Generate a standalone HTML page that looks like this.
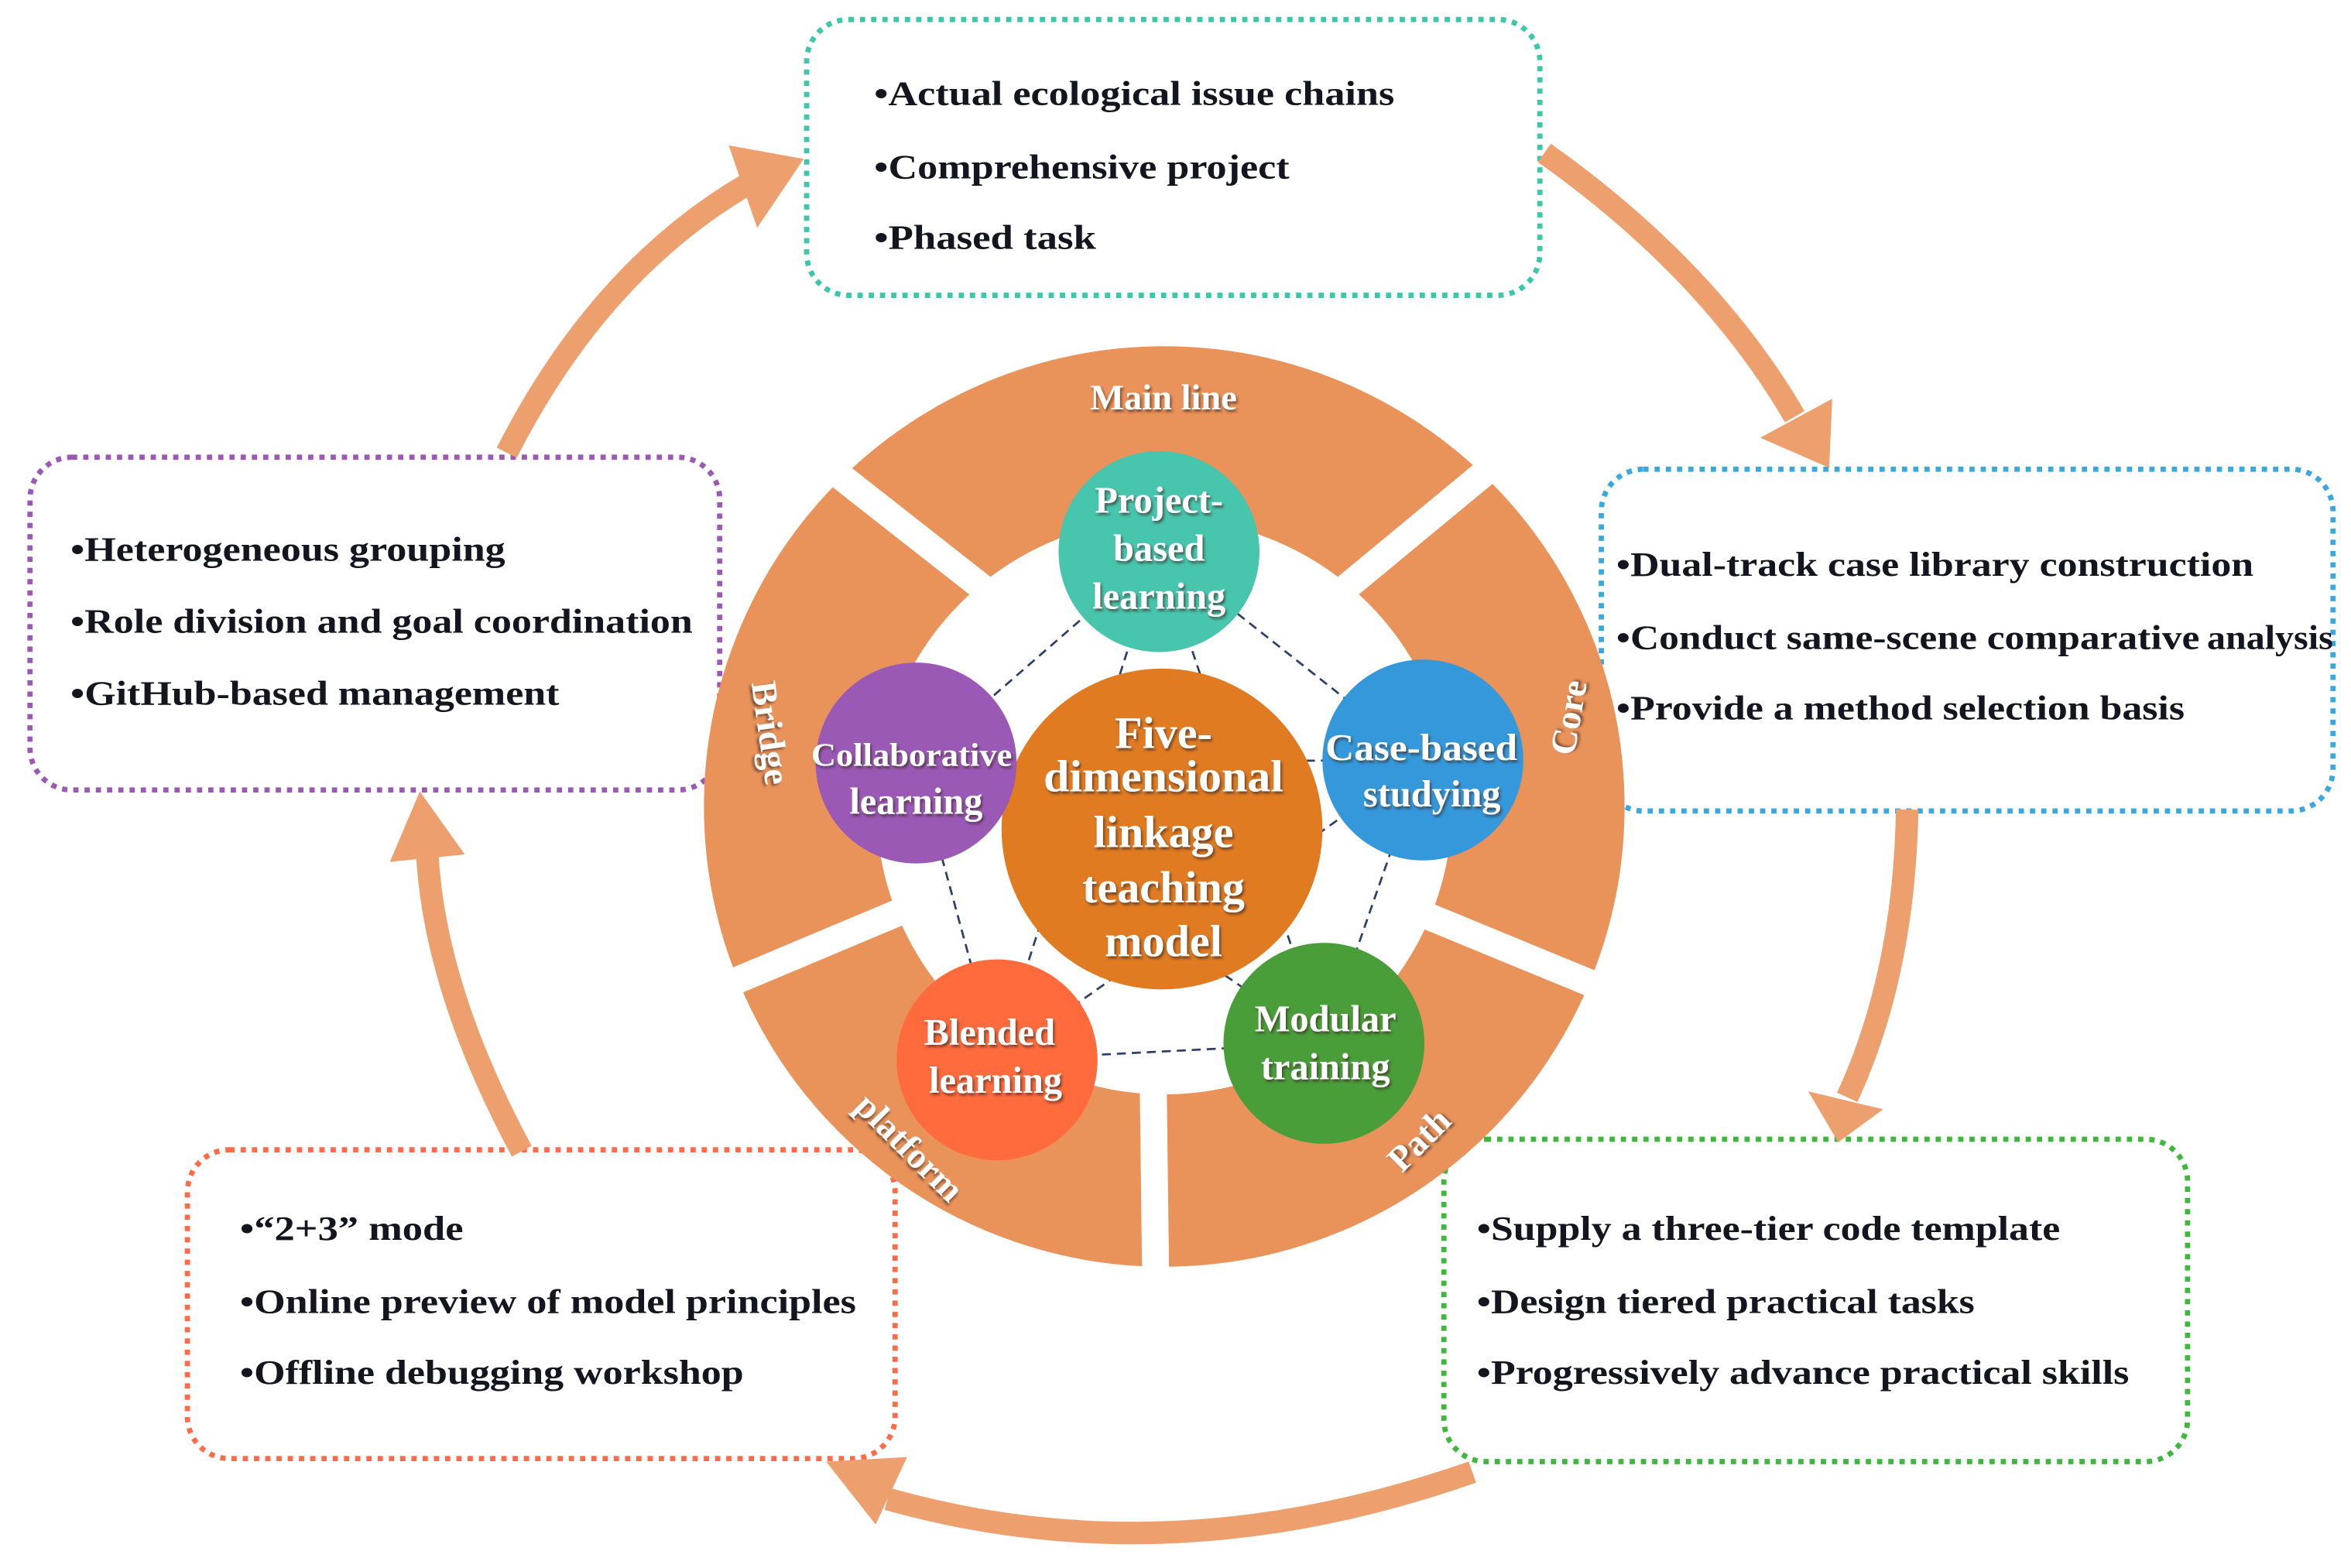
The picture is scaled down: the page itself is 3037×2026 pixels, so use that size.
<!DOCTYPE html>
<html><head><meta charset="utf-8"><style>
html,body{margin:0;padding:0;background:#fff;}
svg{display:block;}
.t{font-family:"Liberation Serif",serif;font-weight:bold;fill:#15151f;font-size:23px;}
.w{font-family:"Liberation Serif",serif;font-weight:bold;fill:#fff;text-anchor:middle;filter:url(#sh);}
</style></head><body>
<svg width="3037" height="2026" viewBox="0 0 1568 1046" preserveAspectRatio="none" xmlns="http://www.w3.org/2000/svg">
<defs>
<filter id="sh" x="-20%" y="-20%" width="140%" height="140%"><feDropShadow dx="1" dy="1.5" stdDeviation="0.8" flood-color="#3a2a20" flood-opacity="0.7"/></filter>
</defs>
<rect width="1568" height="1046" fill="#fff"/>

<!-- boxes -->
<g fill="none" stroke-width="3.5" stroke-dasharray="3.5 4">
<rect x="538" y="13" width="489" height="184" rx="28" stroke="#3CC7A8"/>
<rect x="20" y="305" width="460" height="222" rx="28" stroke="#9B59B6"/>
<rect x="1068" y="313" width="488" height="228" rx="28" stroke="#3AA8E0"/>
<rect x="125" y="767" width="472" height="206" rx="28" stroke="#FF6B47"/>
<rect x="963" y="760" width="496" height="215" rx="28" stroke="#3DB83D"/>
</g>

<!-- arrows -->
<g fill="none" stroke="#EDA06E" stroke-width="15">
<path d="M338,302 Q400,180 500,122"/>
<path d="M1030,102 Q1140,180 1197,278"/>
<path d="M1272,540 Q1270,650 1232,732"/>
<path d="M982,982 Q780,1053 592,1000"/>
<path d="M348,768 Q290,660 285,570"/>
</g>
<g fill="#EDA06E">
<polygon points="536,106 486,97 505,152"/>
<polygon points="1220,312 1174,292 1222,266"/>
<polygon points="1226,762 1206,728 1256,740"/>
<polygon points="551,975 605,972 584,1017"/>
<polygon points="280,528 260,575 310,570"/>
</g>

<!-- ring -->
<circle cx="776.5" cy="538" r="249.5" fill="none" stroke="#E9925A" stroke-width="115"/>
<g stroke="#fff" stroke-width="18">
<line x1="538" y1="300" x2="668" y2="402"/>
<line x1="1004" y1="304" x2="888" y2="400"/>
<line x1="1083" y1="665" x2="930" y2="602"/>
<line x1="771" y1="872" x2="769" y2="712"/>
<line x1="470" y1="663" x2="620" y2="600"/>
</g>
<circle cx="776.5" cy="538" r="192" fill="#fff"/>

<!-- ring labels -->
<text class="w" x="776" y="273" font-size="24">Main line</text>
<text class="w" font-size="24" transform="translate(506,490) rotate(82)">Bridge</text>
<text class="w" font-size="24" transform="translate(1054,480) rotate(-80)">Core</text>
<text class="w" font-size="24" transform="translate(952,766) rotate(-45)">Path</text>
<text class="w" font-size="24" transform="translate(601,771) rotate(45)">platform</text>

<!-- dashed connectors -->
<g stroke="#2c3e6a" stroke-width="1.4" stroke-dasharray="6 4" fill="none">
<path d="M773,368 L611,509 L665,707 L883,696 L949,507 Z"/>
<path d="M773,368 L665,707 M773,368 L883,696 M611,509 L949,507 M611,509 L883,696 M949,507 L665,707"/>
</g>

<!-- circles -->
<circle cx="775" cy="553" r="107" fill="#E07B22"/>
<circle cx="773" cy="368" r="67" fill="#47C5AD"/>
<circle cx="611" cy="509" r="67" fill="#9B59B6"/>
<circle cx="949" cy="507" r="67" fill="#3498DB"/>
<circle cx="665" cy="707" r="67" fill="#FF6B3D"/>
<circle cx="883" cy="696" r="67" fill="#4A9E3A"/>

<!-- circle text -->
<g class="w" font-size="30">
<text x="776" y="499">Five-</text>
<text x="776" y="528" textLength="160" lengthAdjust="spacingAndGlyphs">dimensional</text>
<text x="776" y="565">linkage</text>
<text x="776" y="602">teaching</text>
<text x="776" y="638">model</text>
</g>
<g class="w" font-size="25">
<text x="773" y="342">Project-</text>
<text x="773" y="374">based</text>
<text x="773" y="406">learning</text>
<text x="608" y="511" font-size="22" textLength="134" lengthAdjust="spacingAndGlyphs">Collaborative</text>
<text x="611" y="543">learning</text>
<text x="948" y="507" textLength="128" lengthAdjust="spacingAndGlyphs">Case-based</text>
<text x="955" y="538">studying</text>
<text x="660" y="697">Blended</text>
<text x="664" y="729">learning</text>
<text x="884" y="688">Modular</text>
<text x="884" y="720">training</text>
</g>

<!-- box text -->
<text class="t" x="583" y="70" textLength="347" lengthAdjust="spacingAndGlyphs">•Actual ecological issue chains</text>
<text class="t" x="583" y="119" textLength="277" lengthAdjust="spacingAndGlyphs">•Comprehensive project</text>
<text class="t" x="583" y="166" textLength="148" lengthAdjust="spacingAndGlyphs">•Phased task</text>

<text class="t" x="47" y="374" textLength="290" lengthAdjust="spacingAndGlyphs">•Heterogeneous grouping</text>
<text class="t" x="47" y="422" textLength="415" lengthAdjust="spacingAndGlyphs">•Role division and goal coordination</text>
<text class="t" x="47" y="470" textLength="326" lengthAdjust="spacingAndGlyphs">•GitHub-based management</text>

<text class="t" x="1078" y="384" textLength="425" lengthAdjust="spacingAndGlyphs">•Dual-track case library construction</text>
<text class="t" x="1078" y="433" textLength="389" lengthAdjust="spacingAndGlyphs">•Conduct same-scene comparative</text>
<text class="t" x="1472" y="433" font-size="16" textLength="84" lengthAdjust="spacingAndGlyphs">analysis</text>
<text class="t" x="1078" y="480" textLength="379" lengthAdjust="spacingAndGlyphs">•Provide a method selection basis</text>

<text class="t" x="160" y="827" textLength="149" lengthAdjust="spacingAndGlyphs">•“2+3” mode</text>
<text class="t" x="160" y="876" textLength="411" lengthAdjust="spacingAndGlyphs">•Online preview of model principles</text>
<text class="t" x="160" y="923" textLength="336" lengthAdjust="spacingAndGlyphs">•Offline debugging workshop</text>

<text class="t" x="985" y="827" textLength="389" lengthAdjust="spacingAndGlyphs">•Supply a three-tier code template</text>
<text class="t" x="985" y="876" textLength="332" lengthAdjust="spacingAndGlyphs">•Design tiered practical tasks</text>
<text class="t" x="985" y="923" textLength="435" lengthAdjust="spacingAndGlyphs">•Progressively advance practical skills</text>
</svg>
</body></html>
